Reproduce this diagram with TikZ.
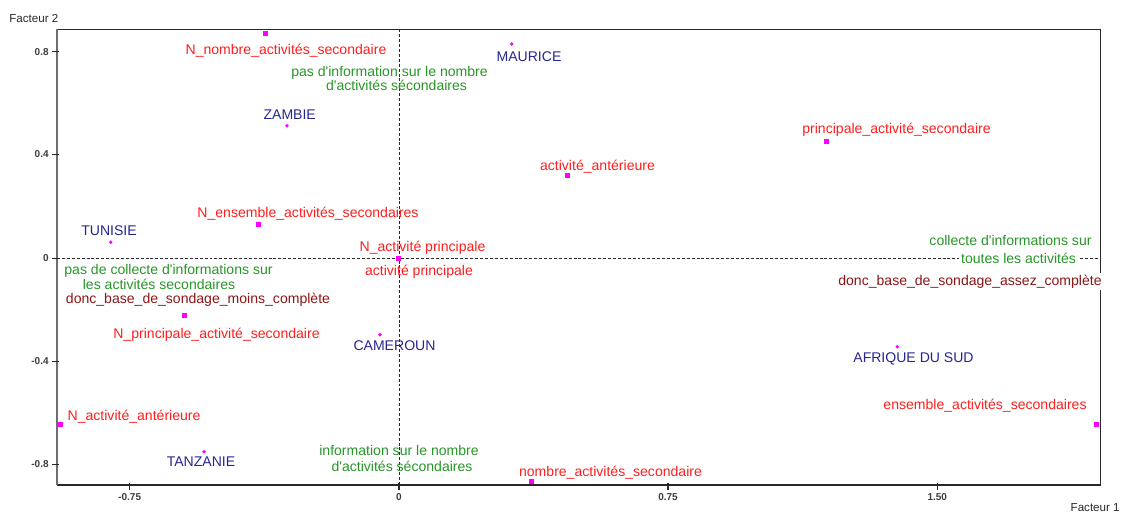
\documentclass[tikz,border=0pt]{standalone}
\usepackage{fontspec}
\setmainfont{Liberation Sans}[Ligatures=TeXOff]
\definecolor{lblred}{RGB}{255,30,30}
\definecolor{cntry}{RGB}{38,38,145}
\definecolor{suppgreen}{RGB}{40,150,40}
\definecolor{basered}{RGB}{140,22,22}
\definecolor{ptmag}{RGB}{255,0,255}
\definecolor{axdark}{RGB}{40,40,40}
\definecolor{axgray}{RGB}{110,110,110}
\tikzset{
  catpt/.style={rectangle, fill=ptmag, inner sep=0pt, minimum size=0.1cm},
  obspt/.style={circle, fill=ptmag, inner sep=0pt, minimum size=0.075cm},
  lbl/.style={font=\fontsize{8}{9}\selectfont, inner sep=0pt, anchor=base},
  catlbl/.style={lbl, text=lblred},
  cntlbl/.style={lbl, text=cntry},
  suplbl/.style={lbl, text=suppgreen},
  baselbl/.style={lbl, text=basered},
  ticklbl/.style={font=\bfseries\fontsize{5.7}{6}\selectfont, text=axdark!90, inner sep=0pt},
  axtitle/.style={font=\fontsize{6.6}{7}\selectfont, text=axdark, inner sep=0pt},
  refline/.style={draw=axdark, line width=0.5pt, dash pattern=on 1.7pt off 1.1pt},
  whitebg/.style={fill=white, inner sep=1.2pt}
}
\begin{document}
\begin{tikzpicture}[x=0.02cm, y=-0.02cm]
\useasboundingbox (0,0) rectangle (1124,514);

% reference dashed lines
\draw[refline] (57,258.3) -- (1100.7,258.3);
\draw[refline] (399,29.3) -- (399,485);

% frame
\draw[axdark, line width=0.55pt] (57,29.3) -- (1100.7,29.3) -- (1100.7,485);
\draw[axdark, line width=0.9pt] (57,485) -- (1100.7,485);
\draw[axgray, line width=1.2pt] (57,29.3) -- (57,485);

% y ticks
\foreach \yy/\tl in {51.7/0.8, 154.3/0.4, 258.3/0, 361.3/-0.4, 464.3/-0.8} {
  \draw[axdark, line width=0.6pt] (52,\yy) -- (59,\yy);
  \node[ticklbl, anchor=east] at (49,\yy) {\tl};
}
% x ticks
\foreach \xx/\tl in {129.7/-0.75, 399/0, 668/0.75, 937.3/1.50} {
  \draw[axdark, line width=0.6pt] (\xx,483) -- (\xx,490);
  \node[ticklbl] at (\xx,497) {\tl};
}
\node[axtitle, anchor=west] (f2) at (9,18.3) {Facteur 2};
\node[axtitle, anchor=east] (f1) at (1120,507.7) {Facteur 1};

% category points
\node[catpt] (pNnombre) at (265,33.7) {};
\node[catpt] (pante) at (567.7,175) {};
\node[catpt] (pprinc) at (826,141.3) {};
\node[catpt] (pNens) at (258.3,224.7) {};
\node[catpt] (pNactp) at (398.5,258.3) {};
\node[catpt] (pNprinc) at (184.3,315.7) {};
\node[catpt] (pNante) at (60.7,424.5) {};
\node[catpt] (pnombre) at (531.7,481.7) {};
\node[catpt] (pens) at (1096.3,424) {};

% observation points
\node[obspt] (pmaurice) at (511.7,44) {};
\node[obspt] (pzambie) at (287,125.7) {};
\node[obspt] (ptunisie) at (110.7,242.3) {};
\node[obspt] (pcameroun) at (380,334.7) {};
\node[obspt] (pafrique) at (897.3,346.7) {};
\node[obspt] (ptanzanie) at (204,451.7) {};

% category labels
\node[catlbl] (lNnombre) at (286,54) {N\_nombre\_activités\_secondaire};
\node[catlbl] (lante) at (597.5,170) {activité\_antérieure};
\node[catlbl] (lprinc) at (896.5,133.3) {principale\_activité\_secondaire};
\node[catlbl] (lNens) at (308,217.3) {N\_ensemble\_activités\_secondaires};
\node[catlbl] (lNactp) at (422.5,251.6) {N\_activité principale};
\node[catlbl] (lactp) at (419,275) {activité principale};
\node[catlbl] (lNprinc) at (216.5,338.7) {N\_principale\_activité\_secondaire};
\node[catlbl, anchor=base west] (lNante) at (67.3,420) {N\_activité\_antérieure};
\node[catlbl] (lnombre) at (610.5,476) {nombre\_activités\_secondaire};
\node[catlbl] (lens) at (985,409.3) {ensemble\_activités\_secondaires};

% country labels
\node[cntlbl] (lmaurice) at (529,61) {MAURICE};
\node[cntlbl] (lzambie) at (289.7,119.3) {ZAMBIE};
\node[cntlbl] (ltunisie) at (109,235) {TUNISIE};
\node[cntlbl] (lcameroun) at (394.5,350) {CAMEROUN};
\node[cntlbl] (lafrique) at (913.5,362) {AFRIQUE DU SUD};
\node[cntlbl] (ltanzanie) at (201,466.7) {TANZANIE};

% supplementary labels
\node[suplbl] (lpasinfoA) at (389.5,76) {pas d'information sur le nombre};
\node[suplbl] (lpasinfoB) at (396.5,90) {d'activités sécondaires};
\node[suplbl] (lpascollA) at (168.5,274.2) {pas de collecte d'informations sur};
\node[suplbl] (lpascollB) at (159,289) {les activités secondaires};
\node[suplbl, whitebg] (lcollA) at (1010.5,245.7) {collecte d'informations sur};
\node[suplbl, whitebg] (lcollB) at (1018.5,263.7) {toutes les activités};
\node[suplbl] (linfoA) at (399,455.7) {information sur le nombre};
\node[suplbl] (linfoB) at (402,471) {d'activités sécondaires};

% base labels
\node[baselbl] (lmoins) at (198,303.7) {donc\_base\_de\_sondage\_moins\_complète};
\node[baselbl, whitebg] (lassez) at (970,285) {donc\_base\_de\_sondage\_assez\_complète};
\end{tikzpicture}
\end{document}
